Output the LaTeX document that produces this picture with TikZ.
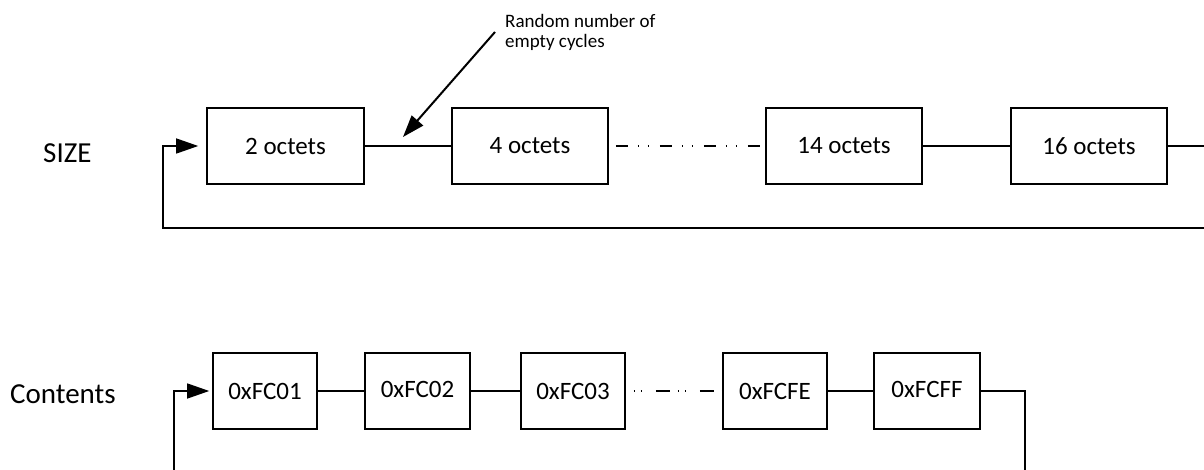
\documentclass[tikz,border=0pt]{standalone}
\usepackage{fontspec}
\setmainfont{Carlito}
\usetikzlibrary{arrows.meta}
\begin{document}
\begin{tikzpicture}[x=1pt,y=-1pt,
  box/.style={draw, line width=1.6pt, minimum height=76pt, inner sep=0pt,
              font=\fontsize{25}{30}\selectfont},
  link/.style={line width=1.4pt},
  tip/.style={-{Triangle[length=22pt,width=15pt]}},
  ddtop/.style={line width=1.4pt,
              dash pattern=on 12pt off 10pt on 1.5pt off 8.5pt on 1.5pt off 10.5pt,
              dash phase=37pt},
  ddbot/.style={line width=1.4pt,
              dash pattern=on 14pt off 8pt on 1.5pt off 5.5pt on 1.5pt off 13.5pt,
              dash phase=14pt},
  lbl/.style={inner sep=0pt, font=\fontsize{29}{35}\selectfont}]
\useasboundingbox (0,0) rectangle (1204,470);
\fill[white] (0,0) rectangle (1204,470);
\clip (0,0) rectangle (1204,470);

% row labels
\node[lbl, anchor=base west] (size) at (43,163) {SIZE};
\node[lbl, anchor=base west] (contents) at (10,403) {Contents};

% size sequence
\node[box, minimum width=157pt] (b2)  at (285.5,146) {2 octets};
\node[box, minimum width=156pt] (b4)  at (530,146)   {4 octets};
\node[box, minimum width=156pt] (b14) at (844,146)   {14 octets};
\node[box, minimum width=156pt] (b16) at (1089,146)  {16 octets};

\draw[link]  (b2.east)  -- (b4.west);
\draw[ddtop] (b4.east)  -- (b14.west);
\draw[link]  (b14.east) -- (b16.west);

% loop back to the first size
\coordinate (sr) at (1220,146);
\coordinate (sb) at (1220,228);
\coordinate (sl) at (163,228);
\draw[link, tip, shorten >=8pt] (b16.east) -- (sr) -- (sb) -- (sl) |- (b2.west);

% note on the gap between sizes
\node[anchor=north west, align=left, inner sep=0pt,
      font=\fontsize{19}{20}\selectfont] (note) at (505,14) {Random number of\\empty cycles};
\coordinate (nt) at (495,32);
\coordinate (gp) at (403,137);
\draw[line width=2pt, tip] (nt) -- (gp);

% contents sequence
\node[box, minimum width=104pt] (c01) at (265,391)   {0xFC01};
\node[box, minimum width=105pt] (c02) at (417.5,391) {\raisebox{2.5pt}{0xFC02}};
\node[box, minimum width=104pt] (c03) at (573,391)   {0xFC03};
\node[box, minimum width=104pt] (cfe) at (775,391)   {0xFCFE};
\node[box, minimum width=106pt] (cff) at (927,391)   {\raisebox{2.5pt}{0xFCFF}};

\draw[link]  (c01.east) -- (c02.west);
\draw[link]  (c02.east) -- (c03.west);
\draw[ddbot] (c03.east) -- (cfe.west);
\draw[link]  (cfe.east) -- (cff.west);

% loop back to the first value
\coordinate (cr) at (1025,391);
\coordinate (cb) at (1025,490);
\coordinate (cl) at (174,490);
\draw[link, tip, shorten >=3pt] (cff.east) -- (cr) -- (cb) -- (cl) |- (c01.west);
\end{tikzpicture}
\end{document}
